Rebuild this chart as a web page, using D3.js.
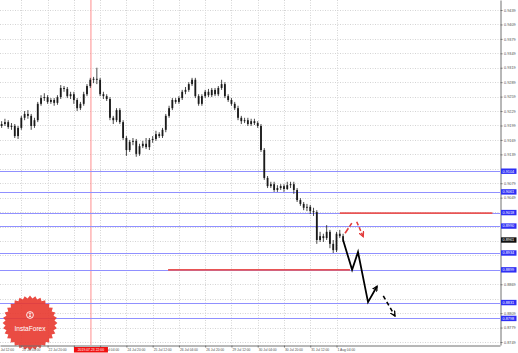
<!DOCTYPE html>
<html>
<head>
<meta charset="utf-8">
<script src="https://cdn.jsdelivr.net/npm/d3@7"></script>
<style>
body { margin: 0; background: #fff; }
svg { display: block; font-family: "Liberation Sans", Arial, sans-serif; }
</style>
</head>
<body>
<svg id="chart" width="518" height="353"></svg>
<script>
// 2-hour candles, opens follow the previous close
var firstOpen = 0.9198;
var closes = [
    0.9202, 0.9206, 0.9196, 0.9198, 0.9177, 0.9194, 0.9215, 0.9223, 0.9219, 0.9198,
    0.9210, 0.9244, 0.9256, 0.9258, 0.9248, 0.9252, 0.9246, 0.9258, 0.9277, 0.9275,
    0.9260, 0.9264, 0.9252, 0.9235, 0.9244, 0.9264, 0.9281, 0.9294, 0.9296, 0.9294,
    0.9264, 0.9260, 0.9254, 0.9215, 0.9210, 0.9231, 0.9206, 0.9173, 0.9148, 0.9165,
    0.9167, 0.9140, 0.9156, 0.9161, 0.9154, 0.9169, 0.9171, 0.9181, 0.9177, 0.9190,
    0.9219, 0.9235, 0.9252, 0.9248, 0.9256, 0.9269, 0.9273, 0.9285, 0.9294, 0.9260,
    0.9244, 0.9260, 0.9269, 0.9262, 0.9273, 0.9264, 0.9277, 0.9285, 0.9260, 0.9252,
    0.9244, 0.9235, 0.9215, 0.9208, 0.9210, 0.9202, 0.9208, 0.9204, 0.9198, 0.9148,
    0.9090, 0.9073, 0.9077, 0.9065, 0.9069, 0.9073, 0.9067, 0.9075, 0.9077, 0.9065,
    0.9044, 0.9036, 0.9028, 0.9030, 0.9021, 0.9019, 0.8961, 0.8969, 0.8965, 0.8978,
    0.8953, 0.8940, 0.8974, 0.8969, 0.8961
];
var highs = [
    0.9208, 0.9213, 0.9210, 0.9204, 0.9202, 0.9198, 0.9219, 0.9229, 0.9231, 0.9223,
    0.9215, 0.9248, 0.9262, 0.9266, 0.9262, 0.9256, 0.9256, 0.9262, 0.9283, 0.9281,
    0.9279, 0.9269, 0.9269, 0.9256, 0.9248, 0.9269, 0.9285, 0.9298, 0.9300, 0.9319,
    0.9298, 0.9269, 0.9264, 0.9258, 0.9219, 0.9235, 0.9235, 0.9210, 0.9177, 0.9169,
    0.9173, 0.9171, 0.9161, 0.9167, 0.9173, 0.9173, 0.9177, 0.9188, 0.9185, 0.9194,
    0.9223, 0.9240, 0.9256, 0.9256, 0.9260, 0.9273, 0.9279, 0.9289, 0.9298, 0.9298,
    0.9264, 0.9264, 0.9273, 0.9275, 0.9277, 0.9277, 0.9281, 0.9294, 0.9289, 0.9264,
    0.9256, 0.9248, 0.9240, 0.9219, 0.9215, 0.9215, 0.9213, 0.9213, 0.9208, 0.9202,
    0.9152, 0.9094, 0.9082, 0.9082, 0.9075, 0.9077, 0.9077, 0.9082, 0.9082, 0.9082,
    0.9069, 0.9048, 0.9040, 0.9036, 0.9034, 0.9028, 0.9023, 0.8978, 0.8974, 0.8992,
    0.8982, 0.8961, 0.8978, 0.8982, 0.8974
];
var lows = [
    0.9194, 0.9198, 0.9192, 0.9190, 0.9173, 0.9171, 0.9190, 0.9210, 0.9213, 0.9190,
    0.9194, 0.9206, 0.9240, 0.9250, 0.9244, 0.9244, 0.9240, 0.9242, 0.9254, 0.9269,
    0.9256, 0.9254, 0.9244, 0.9229, 0.9231, 0.9240, 0.9260, 0.9277, 0.9287, 0.9285,
    0.9260, 0.9254, 0.9250, 0.9210, 0.9202, 0.9206, 0.9202, 0.9169, 0.9136, 0.9144,
    0.9158, 0.9134, 0.9136, 0.9152, 0.9150, 0.9148, 0.9163, 0.9167, 0.9173, 0.9173,
    0.9185, 0.9215, 0.9231, 0.9244, 0.9244, 0.9252, 0.9264, 0.9269, 0.9281, 0.9256,
    0.9240, 0.9240, 0.9256, 0.9258, 0.9258, 0.9260, 0.9260, 0.9273, 0.9256, 0.9248,
    0.9240, 0.9231, 0.9210, 0.9202, 0.9204, 0.9198, 0.9198, 0.9200, 0.9194, 0.9144,
    0.9086, 0.9069, 0.9069, 0.9061, 0.9061, 0.9065, 0.9061, 0.9065, 0.9069, 0.9057,
    0.9040, 0.9032, 0.9023, 0.9021, 0.9015, 0.9011, 0.8953, 0.8957, 0.8957, 0.8961,
    0.8944, 0.8934, 0.8936, 0.8965, 0.8957
];

var xTickHours = [-3, 13, 29, 45, 61, 77, 93, 109, 125, 141, 157, 173, 189, 205];
var xTickLabels = ['21 Jul 12:00', '22 Jul 04:00', '22 Jul 20:00', '23 Jul 12:00', '24 Jul 04:00',
    '24 Jul 20:00', '25 Jul 12:00', '26 Jul 04:00', '26 Jul 20:00', '29 Jul 12:00',
    '30 Jul 04:00', '30 Jul 20:00', '31 Jul 12:00', '1 Aug 04:00'];
var yTicks = [0.9439, 0.9409, 0.9379, 0.9349, 0.9319, 0.9289, 0.9259, 0.9229, 0.9199, 0.9169,
    0.9139, 0.9109, 0.9079, 0.9049, 0.9019, 0.8989, 0.8959, 0.8929, 0.8899, 0.8869,
    0.8839, 0.8809, 0.8779, 0.8749];

var levelPrices = [0.9104, 0.9061, 0.9018, 0.8990, 0.8934, 0.8899, 0.8831, 0.8798];
var currentPrice = 0.8961;
var cursorHour = 55.4;
var cursorLabel = '2019.07.23 22:00';

var redLevelPrices = [0.9017, 0.8899];
var redLevelFrom = [207, 102.4];
var redLevelTo = [300, 213.2];

var mainPathHours = [209, 214.5, 218.1, 224.2, 229.7];
var mainPathPrices = [0.8961, 0.8899, 0.8936, 0.8832, 0.8865];
var nextPathHours = [233.5, 240.6];
var nextPathPrices = [0.8845, 0.8803];
var altUpHours = [210.2, 214.3];
var altUpPrices = [0.8975, 0.8996];
var altDownHours = [217.3, 221.3];
var altDownPrices = [0.8999, 0.8968];

var W = 500, H = 345;
var svg = d3.select('#chart');

var x = d3.scaleLinear().domain([0, 304.6]).range([0, W]);
var y = d3.scaleLinear().domain([0.87428, 0.94598]).range([H, 0]);

var defs = svg.append('defs');
defs.append('clipPath').attr('id', 'plotClip')
    .append('rect').attr('width', W).attr('height', H);

function addMarker(id, color) {
    defs.append('marker')
        .attr('id', id)
        .attr('viewBox', '0 0 6 6')
        .attr('refX', 5).attr('refY', 3)
        .attr('markerWidth', 6).attr('markerHeight', 6)
        .attr('markerUnits', 'userSpaceOnUse')
        .attr('orient', 'auto')
        .append('path')
        .attr('d', 'M0,0.5 L5,3 L0,5.5')
        .attr('fill', 'none')
        .attr('stroke', color)
        .attr('stroke-width', 1.3);
}
addMarker('arrowBlack', '#000');
addMarker('arrowRed', '#e23b3b');

// grid
var grid = svg.append('g').attr('clip-path', 'url(#plotClip)');
grid.selectAll('.hgrid').data(yTicks).enter().append('line')
    .attr('x1', 0).attr('x2', W)
    .attr('y1', function(d) { return Math.round(y(d)) + 0.5; })
    .attr('y2', function(d) { return Math.round(y(d)) + 0.5; })
    .attr('stroke', '#d4d4d4').attr('stroke-dasharray', '1,1.5');
grid.selectAll('.vgrid').data(xTickHours).enter().append('line')
    .attr('x1', function(d) { return Math.round(x(d)) + 0.5; })
    .attr('x2', function(d) { return Math.round(x(d)) + 0.5; })
    .attr('y1', 0).attr('y2', H)
    .attr('stroke', '#d4d4d4').attr('stroke-dasharray', '1,1.5');

// cursor line
svg.append('line')
    .attr('x1', x(cursorHour)).attr('x2', x(cursorHour))
    .attr('y1', 0).attr('y2', H)
    .attr('stroke', '#ff8e8e').attr('stroke-width', 1);

// blue levels
svg.selectAll('.level').data(levelPrices).enter().append('line')
    .attr('x1', 0).attr('x2', W)
    .attr('y1', function(d) { return Math.round(y(d)) + 0.5; })
    .attr('y2', function(d) { return Math.round(y(d)) + 0.5; })
    .attr('stroke', '#9090ff').attr('stroke-width', 1);

// red levels
svg.selectAll('.redLevel').data(redLevelPrices).enter().append('line')
    .attr('x1', function(d, i) { return x(redLevelFrom[i]); })
    .attr('x2', function(d, i) { return x(redLevelTo[i]); })
    .attr('y1', function(d) { return y(d); })
    .attr('y2', function(d) { return y(d); })
    .attr('stroke', '#e85454').attr('stroke-width', 1.8);

// candles
var plot = svg.append('g').attr('clip-path', 'url(#plotClip)');
var candle = plot.selectAll('.candle').data(closes).enter().append('g');
candle.append('line')
    .attr('x1', function(d, i) { return x(2 * i + 1); })
    .attr('x2', function(d, i) { return x(2 * i + 1); })
    .attr('y1', function(d, i) { return y(highs[i]); })
    .attr('y2', function(d, i) { return y(lows[i]); })
    .attr('stroke', '#1a1a1a').attr('stroke-width', 0.8);
candle.append('rect')
    .attr('x', function(d, i) { return x(2 * i + 1) - 0.9; })
    .attr('width', 1.8)
    .attr('y', function(d, i) {
        var o = i == 0 ? firstOpen : closes[i - 1];
        return y(Math.max(o, d));
    })
    .attr('height', function(d, i) {
        var o = i == 0 ? firstOpen : closes[i - 1];
        return Math.max(0.8, Math.abs(y(o) - y(d)));
    })
    .attr('fill', '#1a1a1a');

// forecast paths
var line = d3.line()
    .x(function(d) { return x(d[0]); })
    .y(function(d) { return y(d[1]); });

svg.append('path')
    .attr('d', line(d3.zip(mainPathHours, mainPathPrices)))
    .attr('fill', 'none').attr('stroke', '#000').attr('stroke-width', 1.8)
    .attr('marker-end', 'url(#arrowBlack)');
svg.append('path')
    .attr('d', line(d3.zip(nextPathHours, nextPathPrices)))
    .attr('fill', 'none').attr('stroke', '#000').attr('stroke-width', 1.6)
    .attr('stroke-dasharray', '4,3')
    .attr('marker-end', 'url(#arrowBlack)');
svg.append('path')
    .attr('d', line(d3.zip(altUpHours, altUpPrices)))
    .attr('fill', 'none').attr('stroke', '#e23b3b').attr('stroke-width', 1.6)
    .attr('stroke-dasharray', '6,2');
svg.append('path')
    .attr('d', line(d3.zip(altDownHours, altDownPrices)))
    .attr('fill', 'none').attr('stroke', '#e23b3b').attr('stroke-width', 1.5)
    .attr('stroke-dasharray', '4,2')
    .attr('marker-end', 'url(#arrowRed)');

// logo
var logo = svg.append('g').attr('transform', 'translate(30,323)');
var teeth = d3.range(64);
logo.append('path')
    .attr('d', d3.lineRadial()
        .angle(function(k) { return k * Math.PI / 32; })
        .radius(function(k) { return k % 2 ? 24.6 : 27.4; })
        .curve(d3.curveLinearClosed)(teeth))
    .attr('fill', '#e8392f').attr('fill-opacity', 0.9);
logo.append('circle').attr('cx', 0).attr('cy', -8).attr('r', 3.4)
    .attr('fill', 'none').attr('stroke', '#fff').attr('stroke-width', 0.9);
logo.append('path').attr('d', 'M-1.4,-9.8 L1.4,-9.8 M0,-10 L0,-6 M-1.5,-5.6 L0,-7.2 L1.5,-5.6')
    .attr('fill', 'none').attr('stroke', '#fff').attr('stroke-width', 0.8);
logo.append('text').attr('x', 0).attr('y', 8.4)
    .attr('text-anchor', 'middle')
    .attr('fill', '#fff').attr('font-size', 6.6)
    .text('InstaForex');

// axes
var hidden = levelPrices.concat([currentPrice]);
var visibleTicks = yTicks.filter(function(t) {
    return hidden.every(function(p) { return Math.abs(y(p) - y(t)) >= 5; });
});

var yAxis = svg.append('g')
    .attr('transform', 'translate(' + (W + 0.5) + ',0)')
    .call(d3.axisRight(y).tickValues(visibleTicks).tickFormat(d3.format('.4f'))
        .tickSize(2).tickSizeOuter(0).tickPadding(1.5));
yAxis.select('.domain').attr('stroke', '#707070');
yAxis.selectAll('.tick line').attr('stroke', '#707070');
yAxis.selectAll('text').attr('font-size', 3.8).attr('fill', '#505050')
    .attr('font-family', '"Liberation Sans", Arial, sans-serif');

var xAxis = svg.append('g')
    .attr('transform', 'translate(0,' + (H + 0.5) + ')')
    .call(d3.axisBottom(x).tickValues(xTickHours)
        .tickFormat(function(d, i) { return xTickLabels[i]; })
        .tickSize(2).tickSizeOuter(0).tickPadding(1));
xAxis.select('.domain').attr('stroke', '#707070');
xAxis.selectAll('.tick line').attr('stroke', '#707070');
xAxis.selectAll('text').attr('font-size', 3.3).attr('fill', '#505050')
    .attr('text-anchor', 'start').attr('dx', 0.5)
    .attr('font-family', '"Liberation Sans", Arial, sans-serif');

// price labels
function priceLabel(p, fill) {
    var g = svg.append('g').attr('transform', 'translate(' + (W + 1) + ',' + y(p) + ')');
    g.append('rect').attr('x', 0).attr('y', -2.7).attr('width', 15.5).attr('height', 5.4)
        .attr('fill', fill);
    g.append('text').attr('x', 1.6).attr('y', 1.3)
        .attr('font-size', 3.8).attr('fill', '#fff')
        .text(d3.format('.4f')(p));
}
levelPrices.forEach(function(p) { priceLabel(p, '#2f2ff5'); });
priceLabel(currentPrice, '#111');

// cursor time label
var cl = svg.append('g').attr('transform', 'translate(' + x(cursorHour) + ',' + (H + 2) + ')');
cl.append('rect').attr('x', -17).attr('y', 0).attr('width', 34).attr('height', 5.5)
    .attr('fill', '#f01010');
cl.append('text').attr('x', 0).attr('y', 4.1).attr('text-anchor', 'middle')
    .attr('font-size', 3.4).attr('fill', '#fff').text(cursorLabel);
</script>
</body>
</html>
